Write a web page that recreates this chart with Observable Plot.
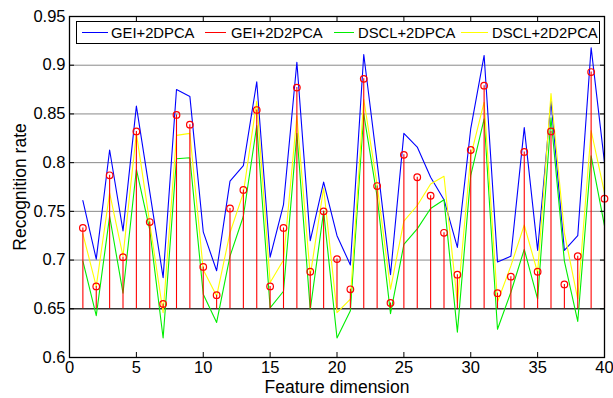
<!DOCTYPE html>
<html>
<head>
<meta charset="utf-8">
<script src="https://cdn.jsdelivr.net/npm/d3@7"></script>
<script src="https://cdn.jsdelivr.net/npm/@observablehq/plot@0.6"></script>
<style>
  html, body { margin: 0; padding: 0; background: #fff; }
  #wrap { position: relative; width: 613px; height: 398px; font-family: "Liberation Sans", Arial, Helvetica, sans-serif; }
  #legend { position: absolute; left: 76px; top: 21px; width: 522px; height: 21px; border: 1.3px solid #000; background: #fff; }
  #legend .s { position: absolute; top: 10px; height: 1.2px; }
  #legend .t { position: absolute; top: 0.5px; font-size: 14.8px; line-height: 20px; color: #000; white-space: nowrap; }
</style>
</head>
<body>
<div id="wrap"></div>
<script>
// ---- data ----
const featureDims = d3.range(1, 41);
const seriesNames = ["GEI+2DPCA", "GEI+2D2PCA", "DSCL+2DPCA", "DSCL+2D2PCA"];
const seriesColors = ["#0000ff", "#ff0000", "#00ee00", "#ffff00"];

const gei2dpca = [0.761,0.701,0.813,0.730,0.858,0.770,0.682,0.875,0.868,0.729,
                  0.689,0.781,0.797,0.883,0.703,0.757,0.903,0.720,0.780,0.725,
                  0.695,0.911,0.800,0.685,0.830,0.816,0.785,0.762,0.713,0.835,
                  0.910,0.698,0.704,0.836,0.710,0.863,0.710,0.725,0.918,0.800];
const gei2d2pca = [0.733,0.673,0.787,0.703,0.832,0.739,0.655,0.849,0.839,0.693,
                   0.664,0.753,0.772,0.854,0.673,0.733,0.877,0.688,0.750,0.701,
                   0.670,0.886,0.776,0.656,0.808,0.785,0.766,0.728,0.685,0.813,
                   0.879,0.666,0.683,0.811,0.688,0.832,0.675,0.704,0.893,0.763];
const dscl2dpca = [0.699,0.643,0.745,0.666,0.793,0.731,0.620,0.804,0.805,0.665,
                   0.636,0.704,0.745,0.838,0.651,0.668,0.830,0.649,0.750,0.620,
                   0.648,0.850,0.765,0.645,0.716,0.732,0.753,0.762,0.626,0.787,
                   0.845,0.629,0.667,0.711,0.660,0.846,0.699,0.637,0.807,0.735];
const dscl2d2pca = [0.727,0.673,0.769,0.704,0.830,0.738,0.646,0.828,0.830,0.690,
                    0.663,0.728,0.769,0.863,0.677,0.700,0.848,0.684,0.774,0.646,
                    0.660,0.865,0.777,0.670,0.740,0.756,0.778,0.786,0.656,0.807,
                    0.862,0.657,0.694,0.736,0.687,0.871,0.728,0.660,0.833,0.769];

const stemBase = 0.65;
const xTicks = [0, 5, 10, 15, 20, 25, 30, 35, 40];
const yTicks = [0.6, 0.65, 0.7, 0.75, 0.8, 0.85, 0.9, 0.95];
const yTickLabels = ["0.6", "0.65", "0.7", "0.75", "0.8", "0.85", "0.9", "0.95"];
const gridVals = [0.7, 0.75, 0.8, 0.85, 0.9];
const xLabel = "Feature dimension";
const yLabel = "Recognition rate";

const rows = (vals) => featureDims.map((d, i) => ({x: d, y: vals[i]}));
const blueRows = rows(gei2dpca), redRows = rows(gei2d2pca), greenRows = rows(dscl2dpca), yellowRows = rows(dscl2d2pca);

const fs = 16.5;
const chart = Plot.plot({
  width: 613,
  height: 398,
  marginLeft: 69,
  marginRight: 9,
  marginTop: 16,
  marginBottom: 41,
  style: {fontFamily: "'Liberation Sans', Arial, Helvetica, sans-serif", background: "#fff", color: "#000"},
  x: {domain: [0, 40], axis: null},
  y: {domain: [0.6, 0.95], axis: null},
  marks: [
    Plot.ruleY(gridVals, {stroke: "#8a8a8a", strokeWidth: 1}),
    Plot.ruleY([stemBase], {stroke: "#333", strokeWidth: 1.6}),
    Plot.line(blueRows, {x: "x", y: "y", stroke: seriesColors[0], strokeWidth: 1.1}),
    Plot.line(greenRows, {x: "x", y: "y", stroke: seriesColors[2], strokeWidth: 1.1}),
    Plot.line(yellowRows, {x: "x", y: "y", stroke: seriesColors[3], strokeWidth: 1.1}),
    Plot.ruleX(redRows, {x: "x", y1: stemBase, y2: "y", stroke: seriesColors[1], strokeWidth: 1.1}),
    Plot.dot(redRows, {x: "x", y: "y", r: 3.3, stroke: seriesColors[1], fill: "none", strokeWidth: 1.2}),
    Plot.frame({stroke: "#000", strokeWidth: 1.3}),
    Plot.axisX(xTicks, {anchor: "bottom", tickSize: -5, tickPadding: 9, fontSize: fs, label: null, tickFormat: d => String(d)}),
    Plot.axisX(xTicks, {anchor: "top", tickSize: -5, label: null, tickFormat: () => ""}),
    Plot.axisY(yTicks, {anchor: "left", tickSize: -5, tickPadding: 9, fontSize: fs, label: null, tickFormat: (d, i) => yTickLabels[i]}),
    Plot.axisY(yTicks, {anchor: "right", tickSize: -5, label: null, tickFormat: () => ""}),
    Plot.text([xLabel], {frameAnchor: "bottom", dy: 30, lineAnchor: "middle", textAnchor: "middle", fontSize: 17.5, text: d => d}),
    Plot.text([yLabel], {frameAnchor: "left", dx: -49, rotate: -90, lineAnchor: "middle", textAnchor: "middle", fontSize: 17.5, text: d => d})
  ]
});

const wrap = document.getElementById("wrap");
wrap.appendChild(chart);

// legend overlay (inside plot area, like the reference)
const legend = document.createElement("div");
legend.id = "legend";
const sampleLeft = [5, 128, 257, 384];
const sampleWidth = [26, 21, 20, 27];
const textLeft = [34, 154, 281, 415];
seriesNames.forEach((name, i) => {
  const s = document.createElement("div");
  s.className = "s";
  s.style.left = sampleLeft[i] + "px";
  s.style.width = sampleWidth[i] + "px";
  s.style.background = seriesColors[i];
  legend.appendChild(s);
  const t = document.createElement("div");
  t.className = "t";
  t.style.left = textLeft[i] + "px";
  t.textContent = name;
  legend.appendChild(t);
});
wrap.appendChild(legend);
</script>
</body>
</html>
